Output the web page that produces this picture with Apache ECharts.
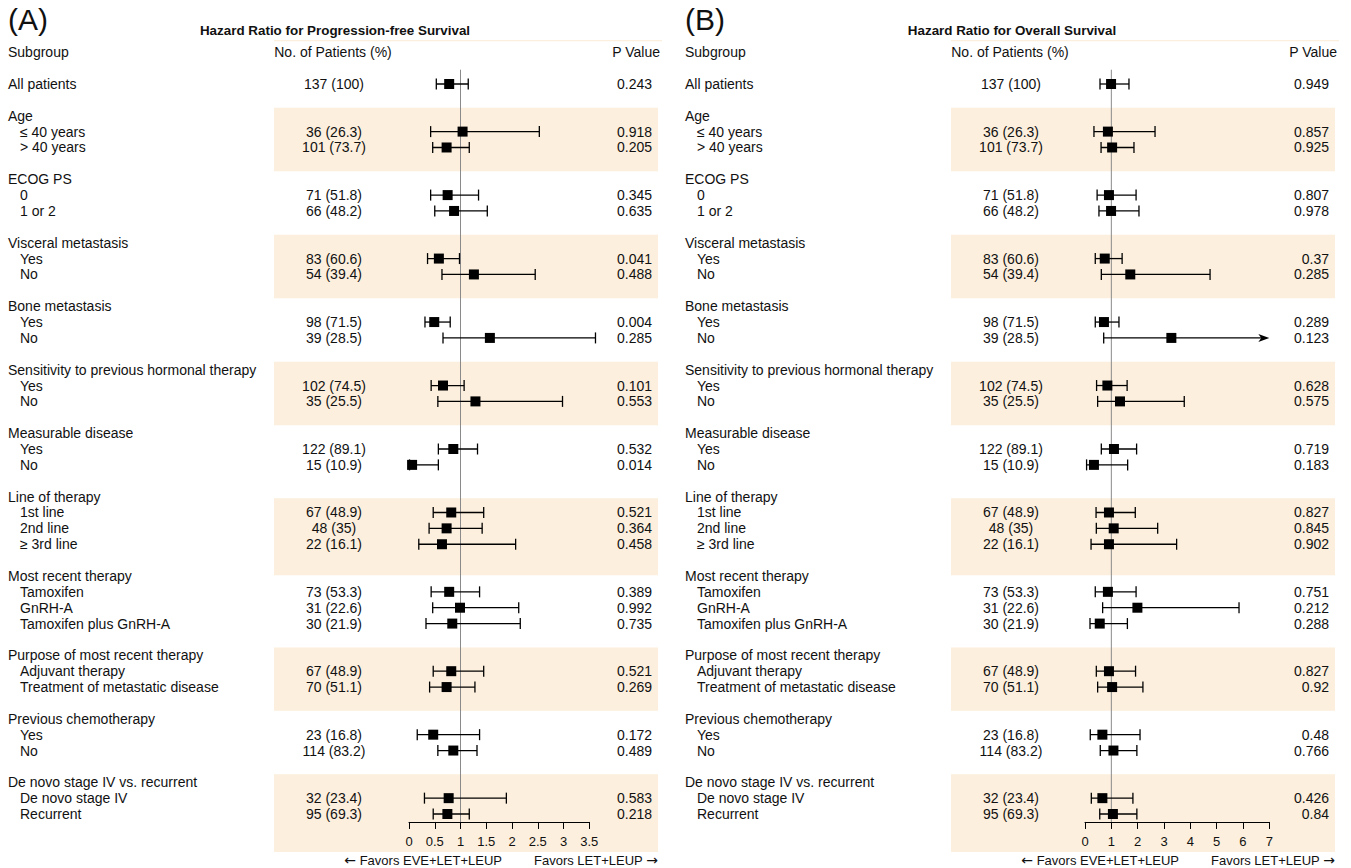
<!DOCTYPE html>
<html>
<head>
<meta charset="utf-8">
<script src="https://cdn.jsdelivr.net/npm/echarts@6/dist/echarts.min.js"></script>
<style>
  html, body { margin: 0; padding: 0; background: #ffffff; }
  #chart { width: 1351px; height: 868px; }
</style>
</head>
<body>
<div id="chart"></div>
<script>
// ---------- data ----------
const groupTitles = [null, 'Age', 'ECOG PS', 'Visceral metastasis', 'Bone metastasis',
  'Sensitivity to previous hormonal therapy', 'Measurable disease', 'Line of therapy',
  'Most recent therapy', 'Purpose of most recent therapy', 'Previous chemotherapy',
  'De novo stage IV vs. recurrent'];
const groupSizes = [1, 2, 2, 2, 2, 2, 2, 3, 3, 2, 2, 2];
const subgroupNames = ['All patients', '≤ 40 years', '> 40 years', '0', '1 or 2', 'Yes', 'No',
  'Yes', 'No', 'Yes', 'No', 'Yes', 'No', '1st line', '2nd line', '≥ 3rd line', 'Tamoxifen',
  'GnRH-A', 'Tamoxifen plus GnRH-A', 'Adjuvant therapy', 'Treatment of metastatic disease',
  'Yes', 'No', 'De novo stage IV', 'Recurrent'];
const patientCounts = [137, 36, 101, 71, 66, 83, 54, 98, 39, 102, 35, 122, 15, 67, 48, 22, 73,
  31, 30, 67, 70, 23, 114, 32, 95];
const patientPercents = [100, 26.3, 73.7, 51.8, 48.2, 60.6, 39.4, 71.5, 28.5, 74.5, 25.5, 89.1,
  10.9, 48.9, 35, 16.1, 53.3, 22.6, 21.9, 48.9, 51.1, 16.8, 83.2, 23.4, 69.3];

// Progression-free survival
const pfsHR = [0.78, 1.04, 0.73, 0.75, 0.875, 0.58, 1.26, 0.49, 1.57, 0.66, 1.29, 0.86, 0.06,
  0.82, 0.73, 0.64, 0.78, 0.99, 0.84, 0.82, 0.73, 0.47, 0.86, 0.77, 0.745];
const pfsLow = [0.53, 0.42, 0.46, 0.42, 0.50, 0.36, 0.64, 0.31, 0.66, 0.43, 0.56, 0.57, 0.01,
  0.47, 0.39, 0.19, 0.43, 0.46, 0.33, 0.47, 0.40, 0.16, 0.56, 0.30, 0.47];
const pfsHigh = [1.15, 2.53, 1.17, 1.35, 1.52, 0.98, 2.45, 0.80, 3.62, 1.07, 2.98, 1.33, 0.57,
  1.45, 1.42, 2.07, 1.37, 2.13, 2.16, 1.45, 1.28, 1.37, 1.32, 1.89, 1.17];
const pfsP = [0.243, 0.918, 0.205, 0.345, 0.635, 0.041, 0.488, 0.004, 0.285, 0.101, 0.553,
  0.532, 0.014, 0.521, 0.364, 0.458, 0.389, 0.992, 0.735, 0.521, 0.269, 0.172, 0.489, 0.583, 0.218];
const pfsTicks = [0, 0.5, 1, 1.5, 2, 2.5, 3, 3.5];

// Overall survival
const osHR = [0.99, 0.87, 1.03, 0.91, 0.99, 0.75, 1.72, 0.72, 3.28, 0.85, 1.33, 1.10, 0.34,
  0.91, 1.09, 0.91, 0.87, 1.99, 0.56, 0.91, 1.03, 0.66, 1.08, 0.66, 1.06];
const osLow = [0.57, 0.34, 0.61, 0.46, 0.53, 0.39, 0.62, 0.39, 0.71, 0.44, 0.48, 0.62, 0.06,
  0.42, 0.43, 0.23, 0.39, 0.67, 0.19, 0.43, 0.48, 0.20, 0.58, 0.24, 0.56];
const osHigh = [1.67, 2.66, 1.86, 1.94, 2.05, 1.41, 4.75, 1.29, 15.2, 1.60, 3.77, 1.96, 1.62,
  1.91, 2.76, 3.48, 1.94, 5.85, 1.61, 1.92, 2.20, 2.09, 1.97, 1.82, 1.97];
const osP = [0.949, 0.857, 0.925, 0.807, 0.978, 0.37, 0.285, 0.289, 0.123, 0.628, 0.575, 0.719,
  0.183, 0.827, 0.845, 0.902, 0.751, 0.212, 0.288, 0.827, 0.92, 0.48, 0.766, 0.426, 0.84];
const osTicks = [0, 1, 2, 3, 4, 5, 6, 7];

const referenceHR = 1;

// ---------- layout ----------
const FONT = '"Liberation Sans", Arial, Helvetica, sans-serif';
const ARROW_FONT = '"DejaVu Sans", sans-serif';
const INK = '#111111';
const BAND = '#fcefdd';
const ROW_H = 15.87;          // pixel height of one text line
const FIRST_ROW_Y = 84;       // centre of the "All patients" line
const Y_MIN = -3, Y_MAX = 46.5;
const GRID_TOP = FIRST_ROW_Y + Y_MIN * ROW_H;
const GRID_H = (Y_MAX - Y_MIN) * ROW_H;
// shaded blocks, in text-line units
const BAND_SPANS = [[1.5, 5.5], [9.5, 13.5], [17.5, 21.5], [26.1, 30.95], [35.5, 39.5], [43.5, 48.4]];

// lay out the table lines: blank line, group title, indented items
const tableLines = [];
const itemLine = [];
(function () {
  let line = 0, k = 0;
  groupTitles.forEach((title, g) => {
    if (g > 0) {
      line += 1;
      tableLines.push({ line: line, label: title, indent: false });
      line += 1;
    }
    for (let j = 0; j < groupSizes[g]; j++, k++) {
      itemLine.push(line);
      tableLines.push({ line: line, label: subgroupNames[k], indent: g > 0, item: k });
      line += 1;
    }
  });
})();

const panels = [
  { dx: 0, gridLeft: 409, gridWidth: 180.3, ticks: pfsTicks, tag: '(A)',
    title: 'Hazard Ratio for Progression-free Survival', hr: pfsHR, low: pfsLow, high: pfsHigh, p: pfsP },
  { dx: 677, gridLeft: 1085, gridWidth: 184.3, ticks: osTicks, tag: '(B)',
    title: 'Hazard Ratio for Overall Survival', hr: osHR, low: osLow, high: osHigh, p: osP }
];

function txt(x, y, text, opts) {
  opts = opts || {};
  const align = opts.align || 'left';
  const size = opts.size || 14;
  const el = {
    type: 'text', x: x, y: y, silent: true,
    style: {
      text: text, fill: opts.color || INK,
      font: (opts.weight || 'normal') + ' ' + size + 'px ' + FONT,
      align: align, textAlign: align, verticalAlign: 'middle', textVerticalAlign: 'middle'
    }
  };
  if (opts.rich) el.style.rich = opts.rich;
  return el;
}

const grids = [], xAxes = [], yAxes = [], series = [], graphics = [];

panels.forEach((pn, pi) => {
  const tickMin = pn.ticks[0];
  const tickMax = pn.ticks[pn.ticks.length - 1];
  const step = pn.ticks[1] - pn.ticks[0];

  grids.push({ left: pn.gridLeft, width: pn.gridWidth, top: GRID_TOP, height: GRID_H,
    containLabel: false, outerBoundsMode: 'none' });
  xAxes.push({
    gridIndex: pi, type: 'value', position: 'bottom', min: tickMin, max: tickMax, interval: step, z: 5,
    axisLine: { show: true, onZero: false, lineStyle: { color: '#000', width: 1 } },
    axisTick: { show: true, inside: false, length: 7, lineStyle: { color: '#000', width: 1 } },
    axisLabel: { show: true, margin: 13, fontSize: 13, fontFamily: FONT, color: INK,
      formatter: v => String(v) },
    splitLine: { show: false }
  });
  yAxes.push({ gridIndex: pi, type: 'value', min: Y_MIN, max: Y_MAX, inverse: true, show: false });

  const tableLeft = 274 + pn.dx, tableRight = 658 + pn.dx;

  // shaded blocks behind alternate groups
  series.push({
    type: 'custom', xAxisIndex: pi, yAxisIndex: pi, silent: true, clip: false, z: 0,
    data: BAND_SPANS.map(s => [0, s[0], s[1]]),
    encode: { x: 0, y: 1 },
    renderItem: (params, api) => {
      const y0 = api.coord([0, api.value(1)])[1];
      const y1 = api.coord([0, api.value(2)])[1];
      return { type: 'rect', shape: { x: tableLeft, y: y0, width: tableRight - tableLeft, height: y1 - y0 },
        style: { fill: BAND } };
    }
  });

  // reference line at HR = 1
  series.push({
    type: 'line', xAxisIndex: pi, yAxisIndex: pi, silent: true, z: 1, symbol: 'none',
    data: [[referenceHR, -0.9], [referenceHR, Y_MAX]],
    lineStyle: { color: '#8a8a8a', width: 1 }, animation: false
  });

  // confidence intervals and point estimates
  series.push({
    type: 'custom', xAxisIndex: pi, yAxisIndex: pi, silent: true, clip: false, z: 3,
    data: pn.hr.map((h, i) => [h, itemLine[i], pn.low[i], pn.high[i]]),
    encode: { x: 0, y: 1 },
    renderItem: (params, api) => {
      const line = api.value(1);
      const pHR = api.coord([api.value(0), line]);
      const y = pHR[1];
      const xLo = api.coord([api.value(2), line])[0];
      const hiVal = api.value(3);
      const truncated = hiVal > tickMax * 1.1;
      const xHi = api.coord([truncated ? tickMax : hiVal, line])[0];
      const stroke = { stroke: '#000', lineWidth: 1.3 };
      const kids = [
        { type: 'line', shape: { x1: xLo, y1: y, x2: truncated ? xHi - 6 : xHi, y2: y }, style: stroke },
        { type: 'line', shape: { x1: xLo, y1: y - 5.5, x2: xLo, y2: y + 5.5 }, style: stroke }
      ];
      if (truncated) {
        kids.push({ type: 'polygon', shape: { points: [[xHi, y], [xHi - 11, y - 4], [xHi - 8, y], [xHi - 11, y + 4]] },
          style: { fill: '#000' } });
      } else {
        kids.push({ type: 'line', shape: { x1: xHi, y1: y - 5.5, x2: xHi, y2: y + 5.5 }, style: stroke });
      }
      kids.push({ type: 'rect', shape: { x: pHR[0] - 5, y: y - 5, width: 10, height: 10 }, style: { fill: '#000' } });
      return { type: 'group', children: kids };
    }
  });

  // table text: subgroup labels, patient numbers, P values
  series.push({
    type: 'custom', xAxisIndex: pi, yAxisIndex: pi, silent: true, clip: false, z: 4,
    data: [[0, -2]].concat(tableLines.map(t => [0, t.line])),
    encode: { x: 0, y: 1 },
    renderItem: (params, api) => {
      const y = api.coord([0, api.value(1)])[1];
      if (params.dataIndex === 0) {
        return { type: 'group', children: [
          txt(8 + pn.dx, y, 'Subgroup'),
          txt(333 + pn.dx, y, 'No. of Patients (%)', { align: 'center' }),
          txt(660 + pn.dx, y, 'P Value', { align: 'right' })
        ] };
      }
      const t = tableLines[params.dataIndex - 1];
      const kids = [txt((t.indent ? 20 : 8) + pn.dx, y, t.label)];
      if (t.item !== undefined) {
        kids.push(txt(334 + pn.dx, y, patientCounts[t.item] + ' (' + patientPercents[t.item] + ')', { align: 'center' }));
        kids.push(txt(652 + pn.dx, y, String(pn.p[t.item]), { align: 'right' }));
      }
      return { type: 'group', children: kids };
    }
  });

  // panel tag, heading and direction labels
  graphics.push(txt(8 + pn.dx, 19, pn.tag, { size: 30 }));
  graphics.push(txt(335 + pn.dx, 30, pn.title, { size: 13.4, weight: 'bold', align: 'center' }));
  graphics.push({ type: 'rect', silent: true, shape: { x: tableLeft, y: 40, width: tableRight - tableLeft + 4, height: 1.2 },
    style: { fill: BAND } });
  const arrowRich = { a: { font: 'normal 14px ' + ARROW_FONT, fill: INK } };
  graphics.push(txt(502 + pn.dx, 860, '{a|←} Favors EVE+LET+LEUP', { size: 13, align: 'right', rich: arrowRich }));
  graphics.push(txt(534 + pn.dx, 860, 'Favors LET+LEUP {a|→}', { size: 13, rich: arrowRich }));
});

const chart = echarts.init(document.getElementById('chart'), null, { renderer: 'svg' });
chart.setOption({
  animation: false,
  backgroundColor: '#ffffff',
  grid: grids,
  xAxis: xAxes,
  yAxis: yAxes,
  series: series,
  graphic: { elements: graphics }
});
</script>
</body>
</html>
